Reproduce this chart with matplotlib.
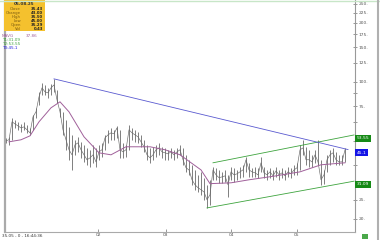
"""Price chart with moving average, trend channel and info box."""
import matplotlib.pyplot as plt
from matplotlib.ticker import FixedLocator, NullFormatter

# one bar per index step
HIGH = [51.8, 52.4, 65.5, 64.0, 62.5, 61.0, 62.5, 60.3, 58.2, 67.9, 73.7, 88.9,
        98.8, 96.5, 93.2, 97.7, 103.6, 91.0, 73.7, 70.3, 64.0, 58.9, 53.6, 50.6,
        52.4, 49.4, 47.7, 46.0, 45.0, 47.7, 46.0, 47.7, 48.8, 53.6, 56.9, 58.2,
        56.9, 59.6, 56.9, 48.8, 47.7, 60.3, 58.2, 56.9, 55.6, 53.6, 50.6, 47.7,
        46.0, 46.6, 47.7, 48.8, 46.6, 46.0, 45.0, 46.0, 45.0, 46.0, 47.7, 46.0,
        42.4, 40.0, 37.7, 35.5, 33.5, 34.7, 32.4, 29.8, 31.6, 36.8, 36.4, 35.5,
        34.7, 35.5, 33.5, 36.8, 36.4, 35.5, 36.8, 37.7, 41.4, 38.6, 36.4, 36.8,
        36.4, 41.4, 36.8, 35.5, 36.4, 35.5, 36.8, 35.5, 36.4, 35.5, 36.8, 36.4,
        37.7, 38.6, 47.7, 50.6, 46.6, 45.0, 42.4, 45.0, 50.6, 40.0, 35.5, 42.4,
        45.0, 46.0, 43.9, 42.4, 42.4, 46.0]
LOW = [48.8, 47.7, 50.6, 58.2, 56.9, 55.6, 56.9, 54.9, 53.6, 56.9, 65.5, 76.3,
       85.8, 85.8, 82.8, 85.8, 88.9, 78.1, 66.3, 53.6, 45.0, 40.0, 35.5, 42.4,
       43.9, 40.9, 39.0, 37.7, 36.8, 38.6, 36.8, 40.0, 41.4, 45.0, 48.8, 50.6,
       50.6, 51.8, 40.9, 40.9, 41.4, 45.0, 50.6, 49.4, 48.8, 46.6, 43.9, 40.0,
       38.6, 40.0, 41.4, 42.4, 40.9, 40.0, 40.0, 40.9, 40.0, 40.9, 42.4, 37.7,
       34.7, 33.5, 29.8, 28.1, 27.4, 26.5, 25.0, 22.7, 23.6, 31.6, 31.6, 30.5,
       30.5, 30.9, 25.9, 31.6, 30.9, 31.6, 32.4, 32.7, 34.7, 32.7, 32.7, 32.7,
       32.4, 34.7, 32.4, 31.6, 32.4, 31.6, 32.7, 31.6, 32.4, 31.6, 32.7, 32.4,
       33.5, 33.5, 35.5, 42.4, 37.7, 36.8, 36.8, 38.6, 37.7, 29.8, 30.2, 34.7,
       37.7, 39.0, 37.7, 37.7, 37.7, 39.0]
CLOSE = [50.0, 50.6, 62.5, 61.0, 59.6, 58.2, 58.9, 56.9, 54.9, 66.3, 70.3, 83.8,
         93.2, 88.9, 87.9, 93.2, 96.5, 80.9, 70.3, 56.9, 50.6, 45.0, 42.4, 47.7,
         48.8, 45.0, 42.4, 40.0, 40.9, 42.4, 39.0, 43.9, 45.0, 51.8, 53.6, 54.9,
         54.3, 58.2, 45.0, 43.9, 45.0, 56.9, 54.9, 53.6, 52.4, 49.4, 46.6, 42.4,
         40.9, 42.4, 45.0, 46.0, 43.9, 43.4, 42.9, 43.9, 42.4, 43.9, 45.0, 40.0,
         36.4, 35.5, 31.6, 29.8, 28.8, 28.1, 27.4, 25.0, 26.5, 35.5, 33.5, 32.4,
         32.7, 33.1, 29.8, 34.7, 33.5, 33.9, 34.7, 35.5, 40.0, 35.5, 34.7, 34.3,
         33.5, 38.6, 34.3, 33.5, 34.7, 33.1, 35.1, 33.5, 34.3, 33.1, 34.7, 33.9,
         35.5, 36.4, 45.0, 46.0, 40.0, 40.0, 39.0, 42.4, 39.0, 31.6, 33.5, 40.0,
         42.4, 43.4, 40.0, 39.0, 39.0, 45.0]

MAVG_X = [1, 5, 8, 11, 15, 18, 21, 26, 31, 35, 40, 48, 53, 58, 65, 68, 75, 81,
          90, 98, 105, 113]
MAVG_Y = [49.4, 50.6, 53.0, 62.5, 73.7, 79.1, 70.3, 52.4, 43.4, 42.4, 46.6, 46.6,
          45.0, 42.4, 35.5, 30.2, 30.5, 31.6, 33.1, 34.7, 37.7, 38.6]

# trend lines: (x0, x1), (p0, p1)
T1_X, T1_P = [67, 116], [22.7, 31.09]   # lower channel
T2_X, T2_P = [69, 116], [38.6, 53.55]   # upper channel
T3_X, T3_P = [16, 114], [103.6, 45.1]   # resistance

Y_TICKS = [250, 225, 200, 175, 150, 125, 100, 75, 50, 25, 20]
Y_MINOR = [87.5, 62.5, 37.5]
X_TICKS = [30.7, 53.3, 75, 97]
X_LABELS = ["02", "03", "04", "05"]

INFO_TITLE = "05.08.25"
INFO_KEYS = ["Close", "Change", "High", "Low", "Open", "Vol"]
INFO_VALS = ["35.43", "43.00", "35.50", "45.00", "35.29", "0.43"]

GREEN = "#3ea43e"
GREEN_BOX = "#168a16"
BLUE = "#5a5ad0"
MAVG_C = "#a0609a"
BAR_C = "#6a6a6a"


def main() -> None:
    fig = plt.figure(figsize=(3.8, 2.4), dpi=100)
    ax = fig.add_axes([5 / 380, 8 / 240, 350 / 380, 232 / 240])
    ax.set_yscale("log")
    ax.set_ylim(17.1, 262)
    ax.set_xlim(-0.33, 116.33)

    idx = list(range(len(CLOSE)))
    ax.vlines(idx, LOW, HIGH, color=BAR_C, lw=0.6)
    ax.plot(idx, CLOSE, color=BAR_C, lw=0.45)
    ax.plot(MAVG_X, MAVG_Y, color=MAVG_C, lw=0.7)

    ax.plot(T1_X, T1_P, color=GREEN, lw=0.6)
    ax.plot(T2_X, T2_P, color=GREEN, lw=0.6)
    ax.plot(T3_X, T3_P, color=BLUE, lw=0.6)

    for val, txt, fc in [(T2_P[1], "53.55", GREEN_BOX), (T3_P[1], "45.1", "#1414e6"),
                         (T1_P[1], "31.09", GREEN_BOX)]:
        ax.text(117, val * 0.985, txt, fontsize=3.2, color="white", va="top", ha="left",
                clip_on=False,
                bbox=dict(boxstyle="square,pad=0.35", fc=fc, ec="none"))

    ax.yaxis.tick_right()
    ax.yaxis.set_major_locator(FixedLocator(Y_TICKS))
    ax.yaxis.set_minor_locator(FixedLocator(Y_MINOR))
    ax.yaxis.set_minor_formatter(NullFormatter())
    ax.set_yticklabels([f"{v}." for v in Y_TICKS])
    ax.tick_params(axis="y", which="both", direction="inout", length=3, width=0.6,
                   colors="#888888", labelsize=3.2, labelcolor="#555555", pad=1)
    ax.set_xticks(X_TICKS)
    ax.set_xticklabels(X_LABELS)
    ax.tick_params(axis="x", direction="in", length=2, width=0.6, colors="#888888",
                   labelsize=3.2, labelcolor="#555555", pad=1)

    ax.spines["top"].set_visible(False)
    ax.spines["right"].set_color("#999999")
    ax.spines["left"].set_color("#aaaaaa")
    ax.spines["left"].set_linewidth(1.6)
    ax.spines["bottom"].set_color("#aaaaaa")
    ax.spines["bottom"].set_linewidth(0.8)

    # frame lines around the figure
    fig.add_artist(plt.Line2D([0, 1], [0.995, 0.995], color="#c8e6c8", lw=1))
    fig.add_artist(plt.Line2D([0.995, 0.995], [0, 1], color="#b0b0b0", lw=1.5))

    # info box
    fig.patches.append(plt.Rectangle((4 / 380, 209 / 240), 41 / 380, 31 / 240,
                                     transform=fig.transFigure, fc="#f4c12e", ec="none"))
    fig.text(24 / 380, 236 / 240, INFO_TITLE, fontsize=3, weight="bold", ha="center",
             va="center", color="#333333")
    for i, (k, v) in enumerate(zip(INFO_KEYS, INFO_VALS)):
        y = (231 - 4 * i) / 240
        fig.text(21 / 380, y, k, fontsize=2.8, ha="right", va="center", color="#7a5a10")
        fig.text(43 / 380, y, v, fontsize=2.8, ha="right", va="center", color="#222222",
                 weight="bold")

    fig.text(2 / 380, 204 / 240, "MAVG", fontsize=3, color=MAVG_C, va="center")
    fig.text(26 / 380, 204 / 240, "37.86", fontsize=3, color=MAVG_C, va="center")
    fig.text(2 / 380, 200 / 240, "T1:31.09", fontsize=3, color=GREEN, va="center")
    fig.text(2 / 380, 196 / 240, "T2:53.55", fontsize=3, color=GREEN, va="center")
    fig.text(2 / 380, 192 / 240, "T3:45.1", fontsize=3, color="#2020e0", va="center")

    fig.text(2 / 380, 4 / 240, "35.05 - 0 - 16:44:36", fontsize=3, color="#333333",
             va="center")
    fig.patches.append(plt.Rectangle((362 / 380, 1 / 240), 6 / 380, 5 / 240,
                                     transform=fig.transFigure, fc="#4aa84a", ec="none"))

    fig.savefig("out.png", dpi=100)
    plt.close(fig)


if __name__ == "__main__":
    main()
